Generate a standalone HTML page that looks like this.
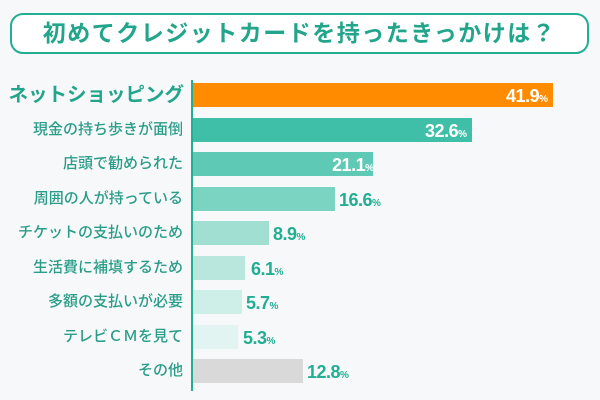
<!DOCTYPE html><html><head><meta charset="utf-8"><style>
body{margin:0;width:600px;height:400px;background:#f7f8fa;font-family:"Liberation Sans","Noto Sans CJK JP",sans-serif;position:relative;overflow:hidden}
.t{position:absolute;left:10px;top:13px;width:575px;height:37px;border:2.5px solid #22ae92;border-radius:13px;background:#fff;color:#22a58b;font-weight:bold;font-size:23px;line-height:37px;text-align:center;letter-spacing:1.5px}
.ax{position:absolute;left:191px;top:80px;width:2px;height:311px;background:#22ae92}
.r{position:absolute;left:0;height:24px;width:600px}
.l{position:absolute;right:417px;top:0;line-height:24px;font-size:15px;color:#2a9d88;white-space:nowrap;font-weight:500}
.b{position:absolute;left:193px;top:0;height:24px}
.v{position:absolute;top:0;line-height:26px;font-size:18px;font-weight:bold;color:#22ae92;white-space:nowrap;letter-spacing:-0.5px}
.v small{font-size:10px;letter-spacing:0}
.in{color:#fff}
</style></head><body>
<div class="t">初めてクレジットカードを持ったきっかけは？</div>
<div class="ax"></div>
<div class="r" style="top:83px"><div class="l" style="font-size:19.5px;font-weight:bold;color:#22a58b;right:416px">ネットショッピング</div><div class="b" style="width:360px;background:#ff8c00"></div><div class="v in" style="right:52px">41.9<small>%</small></div></div>
<div class="r" style="top:118px"><div class="l">現金の持ち歩きが面倒</div><div class="b" style="width:279px;background:#40bfa8"></div><div class="v in" style="right:133px">32.6<small>%</small></div></div>
<div class="r" style="top:152px"><div class="l">店頭で勧められた</div><div class="b" style="width:180px;background:#5ec9b4"></div><div class="v in" style="right:226px">21.1<small>%</small></div></div>
<div class="r" style="top:187px"><div class="l">周囲の人が持っている</div><div class="b" style="width:142px;background:#7bd3c2"></div><div class="v" style="left:339px">16.6<small>%</small></div></div>
<div class="r" style="top:221px"><div class="l">チケットの支払いのため</div><div class="b" style="width:76px;background:#a2dfd3"></div><div class="v" style="left:273px">8.9<small>%</small></div></div>
<div class="r" style="top:256px"><div class="l">生活費に補填するため</div><div class="b" style="width:52px;background:#b9e7de"></div><div class="v" style="left:251px">6.1<small>%</small></div></div>
<div class="r" style="top:290px"><div class="l">多額の支払いが必要</div><div class="b" style="width:49px;background:#ceeee8"></div><div class="v" style="left:246px">5.7<small>%</small></div></div>
<div class="r" style="top:325px"><div class="l">テレビＣＭを見て</div><div class="b" style="width:45px;background:#e2f4f1"></div><div class="v" style="left:243px">5.3<small>%</small></div></div>
<div class="r" style="top:359px"><div class="l">その他</div><div class="b" style="width:110px;background:#d9d9d9"></div><div class="v" style="left:307px">12.8<small>%</small></div></div>
</body></html>
